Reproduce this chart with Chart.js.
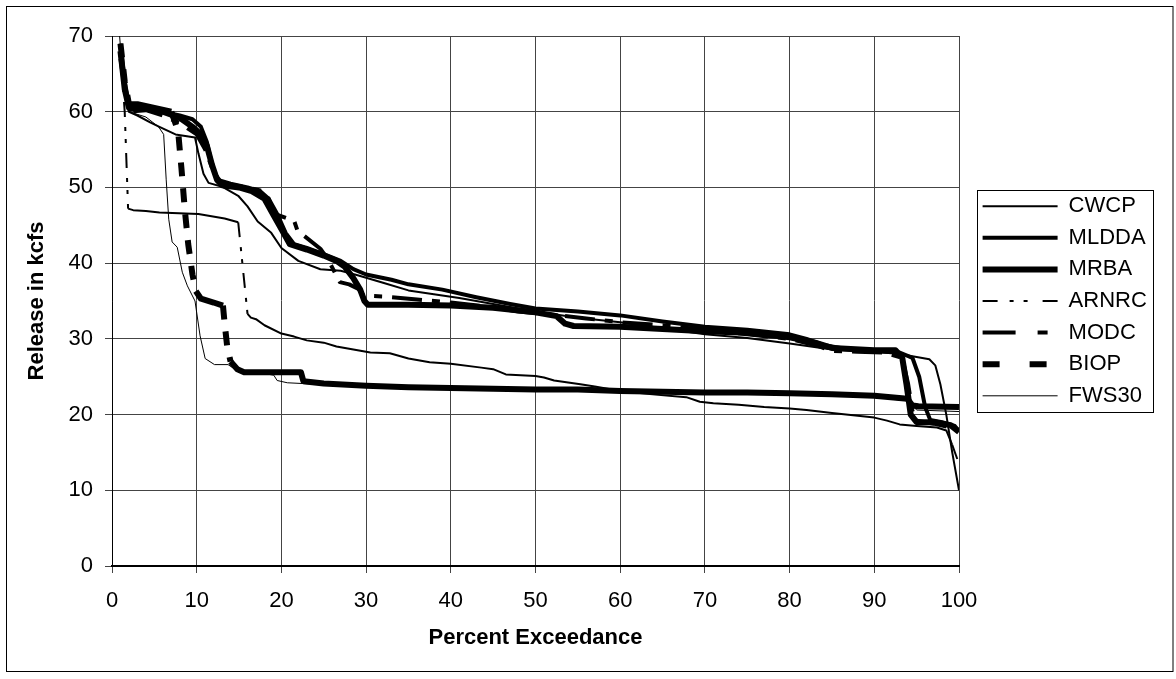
<!DOCTYPE html>
<html>
<head>
<meta charset="utf-8">
<script src="https://cdn.jsdelivr.net/npm/chart.js@4.4.1/dist/chart.umd.min.js"></script>
<style>
    html, body { margin: 0; padding: 0; background: #fff; }
</style>
</head>
<body>
<canvas id="miGrafico" width="1176" height="679"></canvas>
<script>
// Datos: [porcentaje de excedencia, caudal en kcfs]
const nombres = ['CWCP', 'MLDDA', 'MRBA', 'ARNRC', 'MODC', 'BIOP', 'FWS30'];

const cwcp = [[1,68.5],[1.5,63],[2,60],[3,59.5],[4.5,58.6],[5.6,58],[7.5,57],[9.8,56.6],[10.2,54.5],[10.8,51.8],[11.4,50.6],[13,50.1],[14.9,48.9],[16,47.5],[17.2,45.5],[18.8,44],[20,42],[22,40.3],[24.6,39.2],[27,39],[29,38.4],[32,37.4],[35,36.4],[38,35.9],[41,35.4],[45,34.6],[50,33.6],[55,32.8],[60,32.2],[65,31.4],[70,30.6],[75,30.1],[80,29.4],[85,28.6],[90,28.3],[93,28],[95,27.6],[96.5,27.3],[97.2,26.5],[97.8,24],[98.5,20],[99.2,15],[100,10]];

const mldda = [[1,69],[1.5,64],[2,61],[4,60.5],[6,60],[8,59.5],[9.5,59],[10.5,58],[11.2,56],[11.8,53],[12.5,51],[14,50.5],[16,50],[17.5,49.5],[18.5,48.5],[19.5,46.5],[20.5,44],[21.5,42.5],[23,42],[25,41.2],[27,40.3],[28.5,39.2],[30,38.5],[33,37.8],[35,37.2],[39,36.5],[43,35.5],[47,34.6],[50,34],[55,33.6],[60,33.1],[65,32.3],[70,31.6],[75,31.2],[80,30.6],[82,30],[84,29.2],[86,28.8],[90,28.4],[93,28.2],[94.5,27.5],[95.3,25],[96,21],[96.6,19.3],[98,19],[99.5,18.5],[100,17.8]];

const mrba = [[1,68],[1.5,63],[2,60.5],[4,60.5],[6,60],[8,59.2],[9.5,58],[10.5,57],[11.2,55.5],[11.8,53],[12.4,51],[13,50.3],[15,50],[16.5,49.5],[18,48.5],[19,46.5],[20,44.5],[21,42.5],[23,41.8],[25,41],[26.5,40.3],[27.5,39.5],[28.5,38],[29.3,36.5],[29.8,35],[30.2,34.5],[35,34.5],[40,34.4],[45,34.1],[50,33.5],[52.5,33],[53.5,32],[54.5,31.7],[60,31.6],[65,31.3],[70,31],[75,30.8],[80,30.2],[83,29.5],[85,28.8],[90,28.5],[92.5,28.5],[93.3,27.5],[93.8,24],[94.3,20],[95,19],[97,19],[99,18.6],[100,17.7]];

const arnrc = [[1,68],[1.5,60],[1.9,47.2],[2.5,47],[4,46.9],[5.6,46.7],[10.2,46.5],[13.3,45.9],[14.9,45.4],[15.3,41],[16,33.3],[16.4,32.8],[17,32.6],[18,31.8],[20,30.7],[21.5,30.3],[23,29.8],[25,29.5],[26.5,29],[28.5,28.6],[30.5,28.2],[32.8,28.1],[35,27.4],[37.5,26.9],[40,26.7],[43.6,26.2],[45,26],[46.5,25.3],[50,25.1],[51,24.9],[52.2,24.5],[55.3,24],[57,23.7],[60,23.1],[63.5,22.7],[67.8,22.3],[69.4,21.7],[71,21.5],[74,21.3],[77,21],[80,20.8],[82,20.6],[85,20.2],[90,19.6],[91.5,19.2],[93,18.7],[95,18.5],[97.4,18.3],[98.5,17.9],[99.2,16],[100,13.5]];

const modc = [[1,67],[1.5,63],[2,60],[4,60.2],[6,59.5],[8,58.5],[10,57],[11,55],[12,52],[13,50.5],[15,50.2],[17.5,49.6],[18.5,48.5],[19.2,46.5],[21.5,45.6],[21.9,44.3],[24.6,41.9],[25.5,40.5],[26.1,39.2],[26.9,37.5],[28,37.2],[29.1,36.6],[29.7,35.7],[32,35.6],[36,35.2],[40,34.8],[44,34.3],[48,33.6],[52,33.2],[56,32.7],[60,32.2],[65,31.8],[70,31.2],[75,30.6],[80,30],[83.5,29],[85,28.4],[88,28.3],[91,28.2],[93.3,27.5],[94,24],[94.5,20.5],[95,19.2],[97,18.8],[99,18.3],[100,18]];

const biop = [[1,69],[1.5,64],[2,61],[3,61],[5,60.5],[7,60],[7.8,57.5],[8.2,52.5],[8.6,47],[9,42.5],[9.5,38.5],[9.9,36.3],[10.5,35.3],[12,34.8],[13.1,34.4],[13.3,32],[13.6,29],[14,27],[14.8,26],[15.6,25.6],[22.3,25.6],[22.6,24.4],[25,24.1],[30,23.8],[35,23.6],[40,23.5],[45,23.4],[50,23.3],[55,23.3],[60,23.1],[65,23],[70,22.9],[75,22.9],[80,22.8],[85,22.7],[90,22.5],[93.9,22.1],[94.5,21.2],[95.2,21.1],[100,21]];

const fws30 = [[0.9,70],[1.3,64],[2,60],[4,59.3],[5.5,58],[6.1,57],[6.4,51],[6.7,45.8],[7.1,42.8],[7.7,42.1],[8.3,38.8],[8.9,37],[9.8,35],[10.4,30.4],[11,27.4],[12.1,26.6],[13.7,26.6],[14.5,26],[17,25.6],[19.1,25.2],[19.5,24.5],[20.7,24.2],[22.5,24.1],[30,23.7],[40,23.4],[50,23.2],[60,23],[70,22.8],[80,22.6],[90,22.3],[94,21.8],[95,20.6],[100,20.4]];

const series = [cwcp, mldda, mrba, arnrc, modc, biop, fws30];

// Ticks de los ejes
const ticksX = [0, 10, 20, 30, 40, 50, 60, 70, 80, 90, 100];
const ticksY = [0, 10, 20, 30, 40, 50, 60, 70];

// Estilo de cada serie (grosor y guiones)
const grosores = [2, 4, 6, 2, 4, 6, 1];
const guionesLinea = [[], [], [], [15, 10, 4, 8, 4, 10], [30, 10, 8, 10], [14, 12], []];
const guionesLeyenda = [[], [], [], [15, 12, 4, 10, 4, 15], [33, 22, 10, 22], [17, 30], []];
// guiones solo en tramos empinados (como Excel), null = siempre
const umbralGuion = [null, null, null, 15, null, 12, null];

const FUENTE = '"Liberation Sans", Arial, sans-serif';
const TAM = 22;
const PAD_LEY = 9.6;
const ANCHO_MUESTRA = 75;
const DERECHA_GRAFICO = 969;

Chart.defaults.font.family = FUENTE;
Chart.defaults.font.size = TAM;
Chart.defaults.color = '#000';

// ancho de la leyenda para dejar el área del gráfico donde toca
const medidor = document.createElement('canvas').getContext('2d');
medidor.font = TAM + 'px ' + FUENTE;
const textoMax = Math.max(...nombres.map(n => medidor.measureText(n).width));
const anchoLeyenda = PAD_LEY + ANCHO_MUESTRA + TAM / 2 + textoMax;

function guionSiEmpinado(patron, umbral) {
    return (ctx) => {
        const dy = Math.abs(ctx.p1.y - ctx.p0.y);
        return dy >= umbral ? patron : undefined;
    };
}

const datasets = series.map((serie, i) => {
    const ds = {
        label: nombres[i],
        data: serie.map(([p, v]) => ({x: p, y: v})),
        borderColor: '#000',
        backgroundColor: '#000',
        borderWidth: grosores[i],
        borderCapStyle: 'butt',
        borderJoinStyle: 'round',
        pointRadius: 0,
        pointHoverRadius: 0,
        tension: 0,
        fill: false
    };
    if (umbralGuion[i] === null) {
        ds.borderDash = guionesLinea[i];
    } else {
        ds.borderDash = [];
        ds.segment = { borderDash: guionSiEmpinado(guionesLinea[i], umbralGuion[i]) };
    }
    return ds;
});

const marcos = {
    id: 'marcos',
    afterLayout(chart) {
        // coloca la leyenda centrada y algo separada del gráfico
        const ley = chart.legend;
        const centro = (chart.chartArea.top + chart.chartArea.bottom) / 2;
        const alto = ley.bottom - ley.top;
        ley.top = centro - alto / 2;
        ley.bottom = centro + alto / 2;
        ley.left += 14;
        ley.right += 14;
    },
    afterDraw(chart) {
        const ctx = chart.ctx;
        const cajas = chart.legend.legendHitBoxes;
        ctx.save();
        ctx.strokeStyle = '#000';
        ctx.lineWidth = 1;
        ctx.setLineDash([]);
        if (cajas && cajas.length) {
            const izq = Math.round(cajas[0].left - 5.5) + 0.5;
            const arriba = Math.round(cajas[0].top - 5) + 0.5;
            const ultima = cajas[cajas.length - 1];
            const abajo = Math.round(ultima.top + ultima.height + 5) + 0.5;
            ctx.strokeRect(izq, arriba, 176, abajo - arriba);
        }
        // borde exterior del gráfico
        ctx.strokeRect(6.5, 6.5, chart.width - 9.5, chart.height - 14);
        ctx.restore();
    }
};

const canvas = document.getElementById('miGrafico');
new Chart(canvas, {
    type: 'line',
    data: { datasets: datasets },
    options: {
        responsive: false,
        animation: false,
        events: [],
        layout: {
            padding: { left: 0, top: 36, bottom: 0, right: 1176 - DERECHA_GRAFICO - anchoLeyenda }
        },
        scales: {
            x: {
                type: 'linear',
                min: ticksX[0],
                max: ticksX[ticksX.length - 1],
                afterBuildTicks: (eje) => { eje.ticks = ticksX.map(v => ({value: v})); },
                afterFit: (eje) => { eje.height = 113; },
                ticks: { padding: 15, color: '#000', font: { size: TAM }, maxRotation: 0 },
                grid: { color: '#444', lineWidth: 1, tickLength: 7, drawTicks: true },
                border: { display: true, color: '#000', width: 2 },
                title: {
                    display: true,
                    text: 'Percent Exceedance',
                    color: '#000',
                    font: { size: TAM, weight: 'bold' },
                    padding: { top: 0, bottom: 28 }
                }
            },
            y: {
                type: 'linear',
                min: ticksY[0],
                max: ticksY[ticksY.length - 1],
                afterBuildTicks: (eje) => { eje.ticks = ticksY.map(v => ({value: v})); },
                afterFit: (eje) => { eje.width = 112; },
                ticks: { padding: 12, color: '#000', font: { size: TAM } },
                grid: { color: '#444', lineWidth: 1, tickLength: 7, drawTicks: true },
                border: { display: true, color: '#000', width: 1 },
                title: {
                    display: true,
                    text: 'Release in kcfs',
                    color: '#000',
                    font: { size: TAM, weight: 'bold' },
                    padding: { top: 24, bottom: 0 }
                }
            }
        },
        plugins: {
            tooltip: { enabled: false },
            legend: {
                display: true,
                position: 'right',
                align: 'center',
                labels: {
                    usePointStyle: true,
                    pointStyle: 'line',
                    pointStyleWidth: ANCHO_MUESTRA,
                    padding: PAD_LEY,
                    color: '#000',
                    font: { size: TAM },
                    generateLabels(chart) {
                        const items = Chart.defaults.plugins.legend.labels.generateLabels(chart);
                        items.forEach((it, i) => {
                            it.lineDash = guionesLeyenda[i];
                            it.lineWidth = grosores[i];
                            it.lineCap = 'butt';
                            it.strokeStyle = '#000';
                            it.fillStyle = '#000';
                        });
                        return items;
                    }
                }
            }
        }
    },
    plugins: [marcos]
});
</script>
</body>
</html>
